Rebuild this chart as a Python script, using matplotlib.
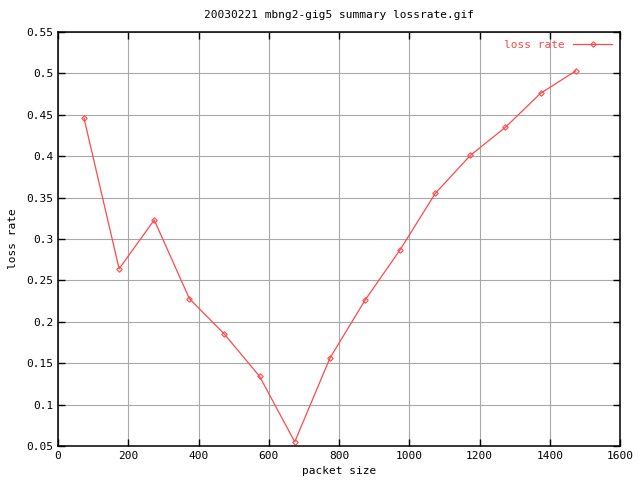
import matplotlib
matplotlib.use("Agg")
import matplotlib.pyplot as plt

packet_size = [74, 174, 274, 374, 474, 574, 674, 774, 874, 974, 1074, 1174, 1274, 1374, 1474]
loss_rate = [0.446, 0.264, 0.323, 0.228, 0.185, 0.134, 0.055, 0.156, 0.226, 0.287, 0.355, 0.401, 0.435, 0.476, 0.503]
xticks = [0, 200, 400, 600, 800, 1000, 1200, 1400, 1600]
yticks = [0.05, 0.1, 0.15, 0.2, 0.25, 0.3, 0.35, 0.4, 0.45, 0.5, 0.55]
ytick_labels = ["0.05", "0.1", "0.15", "0.2", "0.25", "0.3", "0.35", "0.4", "0.45", "0.5", "0.55"]

plt.rcParams['font.family'] = ['DejaVu Sans Mono']
fig = plt.figure(figsize=(6.4, 4.8), dpi=100)
ax = fig.add_axes([58/640, 34/480, 562/640, 414/480])
red = '#ff4a4a'
ax.plot(packet_size, loss_rate, color=red, lw=0.9, marker='D', markersize=2.8,
        markerfacecolor='none', markeredgecolor=red, markeredgewidth=0.8, label='loss rate')
ax.set_xlim(0, 1600)
ax.set_ylim(0.05, 0.55)
ax.set_xticks(xticks)
ax.set_xticklabels([str(v) for v in xticks])
ax.set_yticks(yticks)
ax.set_yticklabels(ytick_labels)
ax.grid(True, color='#a8a8a8', lw=0.8)
ax.set_axisbelow(True)
ax.tick_params(direction='in', top=True, right=True, length=5, labelsize=8, width=1)
for s in ax.spines.values():
    s.set_linewidth(1.1)
ax.set_xlabel('packet size', fontsize=8, labelpad=4)
ax.set_ylabel('loss rate', fontsize=8, labelpad=6)
ax.set_title('20030221 mbng2-gig5 summary lossrate.gif', fontsize=8, pad=10)
leg = ax.legend(loc='upper right', frameon=False, fontsize=8, markerfirst=False,
                handlelength=3.5, borderaxespad=0.3)
for t in leg.get_texts():
    t.set_color(red)
fig.savefig('out.png', dpi=100)
